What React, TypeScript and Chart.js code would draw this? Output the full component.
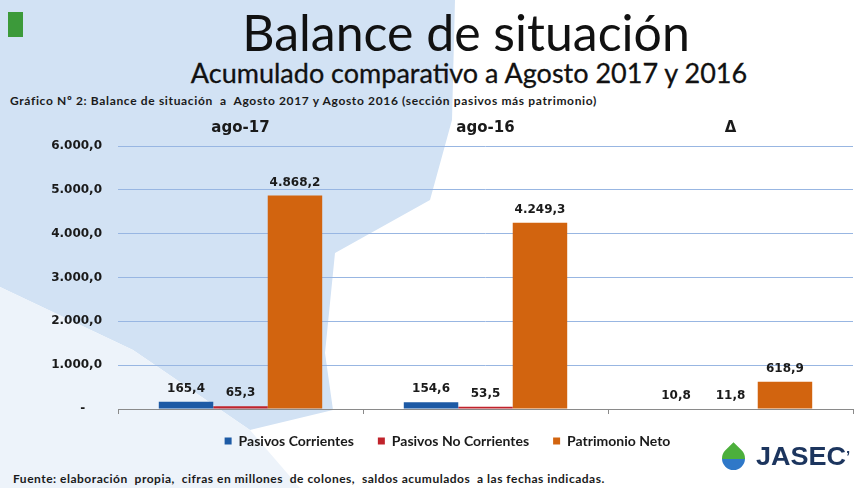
import React, { useEffect, useRef } from "react";
import { Chart, registerables } from "chart.js";

Chart.register(...registerables);

const categories = ["ago-17", "ago-16", "Δ"];
const seriesNames = ["Pasivos Corrientes", "Pasivos No Corrientes", "Patrimonio Neto"];
const pasivosCorrientes = [165.4, 154.6, 10.8];
const pasivosNoCorrientes = [65.3, 53.5, 11.8];
const patrimonioNeto = [4868.2, 4249.3, 618.9];
const seriesColors = ["#1d5aa5", "#c0232b", "#d2640f"];
const yTicks = [0, 1000, 2000, 3000, 4000, 5000, 6000];

function fmt(v: number): string {
  const [i, d] = v.toFixed(1).split(".");
  return i.replace(/\B(?=(\d{3})+(?!\d))/g, ".") + "," + d;
}

const labelPlugin = {
  id: "valueLabels",
  afterDatasetsDraw(chart: any) {
    const ctx = chart.ctx;
    ctx.save();
    ctx.font = "bold 12px 'DejaVu Sans'";
    ctx.fillStyle = "#1a1a1a";
    ctx.textAlign = "center";
    ctx.textBaseline = "middle";
    chart.data.datasets.forEach((ds: any, i: number) => {
      const meta = chart.getDatasetMeta(i);
      meta.data.forEach((bar: any, j: number) => {
        ctx.fillText(fmt(ds.data[j]), bar.x, bar.y - 13);
      });
    });
    ctx.restore();
  },
};

function ChartCanvas() {
  const ref = useRef<HTMLCanvasElement | null>(null);
  useEffect(() => {
    if (!ref.current) return;
    const chart = new Chart(ref.current, {
      type: "bar",
      data: {
        labels: categories,
        datasets: [
          { label: seriesNames[0], data: pasivosCorrientes, backgroundColor: seriesColors[0] },
          { label: seriesNames[1], data: pasivosNoCorrientes, backgroundColor: seriesColors[1] },
          { label: seriesNames[2], data: patrimonioNeto, backgroundColor: seriesColors[2] },
        ],
      },
      options: {
        animation: false,
        responsive: false,
        maintainAspectRatio: false,
        layout: { padding: { left: 0, right: 5, top: 0, bottom: 0 } },
        datasets: { bar: { categoryPercentage: 0.667, barPercentage: 1 } },
        plugins: {
          legend: {
            position: "bottom",
            labels: {
              boxWidth: 7,
              boxHeight: 7,
              padding: 24,
              color: "#1a1a1a",
              font: { family: "Lato", size: 14, weight: "bold" },
            },
          },
          tooltip: { enabled: false },
        },
        scales: {
          x: {
            position: "top",
            grid: { display: false, drawTicks: false },
            border: { display: false },
            ticks: { padding: 9, color: "#1a1a1a", font: { family: "DejaVu Sans", size: 15, weight: "bold" } },
            afterFit: (s: any) => { s.height = 36; },
          },
          x2: {
            type: "category",
            labels: categories,
            position: "bottom",
            grid: { display: true, drawOnChartArea: false, drawTicks: true, tickLength: 5, color: "#8a8a8a" },
            border: { display: true, color: "#8a8a8a" },
            ticks: { display: false },
            afterFit: (s: any) => { s.height = 1; },
          },
          y: {
            min: 0,
            max: 6000,
            afterBuildTicks: (s: any) => { s.ticks = yTicks.map((v) => ({ value: v })); },
            grid: {
              drawTicks: false,
              color: (c: any) => (c.tick && c.tick.value === 0 ? "rgba(0,0,0,0)" : "#98b6e2"),
            },
            border: { display: false },
            ticks: {
              padding: 16,
              color: "#1a1a1a",
              font: { family: "DejaVu Sans", size: 12, weight: "bold" },
              callback: (v: any) => (Number(v) === 0 ? "-    " : fmt(Number(v))),
            },
            afterFit: (s: any) => { s.width = 76; },
          },
        },
      },
      plugins: [labelPlugin],
    });
    return () => chart.destroy();
  }, []);
  return (
    <canvas
      ref={ref}
      width={816}
      height={348}
      style={{ position: "absolute", left: 42, top: 110, width: 816, height: 348 }}
    />
  );
}

export default function App() {
  return (
    <div
      style={{
        position: "fixed",
        left: 0,
        top: 0,
        width: 858,
        height: 488,
        background: "#ffffff",
        overflow: "hidden",
        fontFamily: "Lato, sans-serif",
      }}
    >
      <div
        style={{
          position: "absolute",
          inset: 0,
          background: "#d2e2f4",
          clipPath:
            "polygon(0px 0px, 455px 0px, 452px 120px, 430px 200px, 335px 253px, 325px 353px, 333px 410px, 250px 430px, 133px 350px, 0px 287px)",
        }}
      />
      <div
        style={{
          position: "absolute",
          inset: 0,
          background: "#edf3fa",
          clipPath: "polygon(0px 287px, 133px 350px, 250px 430px, 300px 488px, 0px 488px)",
        }}
      />
      <div style={{ position: "absolute", left: 8, top: 12, width: 15, height: 25, background: "#3c9a3a" }} />
      <div
        style={{
          position: "absolute",
          left: 0,
          width: 932,
          top: 2,
          textAlign: "center",
          fontSize: 50,
          lineHeight: "60px",
          color: "#111",
        }}
      >
        Balance de situación
      </div>
      <div
        style={{
          position: "absolute",
          left: 0,
          width: 938,
          top: 56,
          textAlign: "center",
          fontSize: 27,
          lineHeight: "34px",
          color: "#111",
          WebkitTextStroke: "0.3px #111",
        }}
      >
        Acumulado comparativo a Agosto 2017 y 2016
      </div>
      <div
        style={{
          position: "absolute",
          left: 10,
          top: 93,
          fontSize: 12,
          fontWeight: "bold",
          lineHeight: "16px",
          letterSpacing: "0.65px",
          color: "#1a1a1a",
          whiteSpace: "pre",
        }}
      >
        {"Gráfico Nº 2: Balance de situación  a  Agosto 2017 y Agosto 2016 (sección pasivos más patrimonio)"}
      </div>
      <ChartCanvas />
      <div
        style={{
          position: "absolute",
          left: 13,
          top: 471,
          fontSize: 12,
          fontWeight: "bold",
          lineHeight: "16px",
          letterSpacing: "0.5px",
          color: "#1a1a1a",
          whiteSpace: "pre",
        }}
      >
        {"Fuente: elaboración  propia,  cifras en millones  de colones,  saldos acumulados  a las fechas indicadas."}
      </div>
      <div
        style={{
          position: "absolute",
          left: 722,
          top: 447,
          width: 23,
          height: 23,
          borderRadius: "0 50% 50% 50%",
          transform: "rotate(45deg)",
          background: "linear-gradient(-45deg, #2f78c8 50%, #4caf3c 50%)",
        }}
      />
      <div
        style={{
          position: "absolute",
          left: 756,
          top: 443,
          fontFamily: "'Liberation Sans', Arial, sans-serif",
          fontWeight: "bold",
          fontSize: 25,
          lineHeight: "26px",
          color: "#1c355e",
          transform: "scaleX(1.08)",
          transformOrigin: "left center",
          whiteSpace: "nowrap",
        }}
      >
        JASEC<span style={{ fontSize: 14, verticalAlign: "top" }}>’</span>
      </div>
    </div>
  );
}
